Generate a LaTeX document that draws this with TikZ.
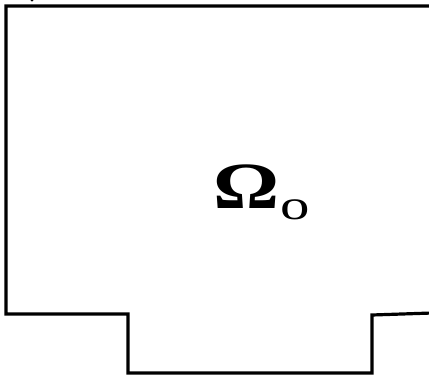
\documentclass[tikz,border=0pt]{standalone}
\usepackage{fontspec}
\setmainfont{Liberation Serif}
\begin{document}
\begin{tikzpicture}[x=1pt,y=-1pt,
  edge/.style={line width=3.2pt,line join=miter,line cap=rect},
  lbl/.style={inner sep=0pt}]
\useasboundingbox (0,0) rectangle (429,378);
\coordinate (tl) at (6,6);
\coordinate (tr) at (432,6);
\coordinate (bl) at (6,314);
\coordinate (n1) at (128,314);
\coordinate (n2) at (128,373);
\coordinate (n3) at (372,373);
\coordinate (n4) at (372,315);
\coordinate (br) at (432,313);
\draw[edge] (tr) -- (tl) -- (bl) -- (n1) -- (n2) -- (n3) -- (n4) -- (br);
\fill (32,0) circle (1.6);
\node[lbl,anchor=base west] (om) at (213,208) {\scalebox{1.25}[1]{\fontsize{66}{66}\selectfont\bfseries Ω}};
\node[lbl,anchor=base west] (sub) at ([xshift=0.5pt]om.base east) {\raisebox{-11pt}{\scalebox{1.4}[1]{\fontsize{42}{42}\selectfont o}}};
\end{tikzpicture}
\end{document}
